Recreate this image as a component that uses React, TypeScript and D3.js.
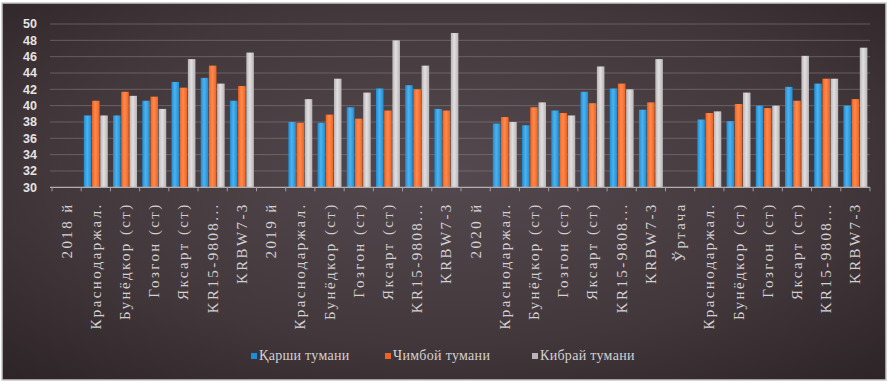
import React from "react";
import * as d3 from "d3";

const categories = [
  "2018 й", "Краснодаржал.", "Бунёдкор (ст)", "Гозгон (ст)", "Яксарт (ст)", "KR15-9808...", "KRBW7-3",
  "2019 й", "Краснодаржал.", "Бунёдкор (ст)", "Гозгон (ст)", "Яксарт (ст)", "KR15-9808...", "KRBW7-3",
  "2020 й", "Краснодаржал.", "Бунёдкор (ст)", "Гозгон (ст)", "Яксарт (ст)", "KR15-9808...", "KRBW7-3",
  "Ўртача", "Краснодаржал.", "Бунёдкор (ст)", "Гозгон (ст)", "Яксарт (ст)", "KR15-9808...", "KRBW7-3",
];

const seriesNames = ["Қарши тумани", "Чимбой тумани", "Кибрай тумани"];

const qarshi = [
  null, 38.8, 38.8, 40.6, 42.9, 43.4, 40.6,
  null, 38.0, 37.9, 39.8, 42.1, 42.5, 39.6,
  null, 37.8, 37.6, 39.4, 41.7, 42.1, 39.5,
  null, 38.3, 38.1, 40.0, 42.3, 42.7, 40.0,
];
const chimboy = [
  null, 40.6, 41.7, 41.1, 42.2, 44.9, 42.4,
  null, 37.9, 38.9, 38.4, 39.4, 42.0, 39.4,
  null, 38.6, 39.8, 39.1, 40.3, 42.7, 40.4,
  null, 39.1, 40.2, 39.7, 40.6, 43.3, 40.8,
];
const kibray = [
  null, 38.8, 41.2, 39.6, 45.7, 42.7, 46.5,
  null, 40.8, 43.3, 41.6, 48.0, 44.9, 48.9,
  null, 38.0, 40.4, 38.8, 44.8, 42.0, 45.7,
  null, 39.3, 41.6, 40.0, 46.1, 43.3, 47.1,
];

const yTicks = [30, 32, 34, 36, 38, 40, 42, 44, 46, 48, 50];

const colors = ["#1b8ed6", "#f0621f", "#b9b5b6"];
const colorsLight = ["#4fb2ee", "#ff8a4d", "#e2dfe0"];

const serif = "'Liberation Serif', 'DejaVu Serif', 'Times New Roman', serif";

export default function App() {
  const W = 888, H = 382;
  const left = 52, right = 870, top = 24, bottom = 187.3;
  const x = d3.scaleBand<number>().domain(d3.range(categories.length)).range([left, right]).paddingInner(0.18).paddingOuter(0.09);
  const xs = d3.scaleBand<number>().domain([0, 1, 2]).range([0, x.bandwidth()]).paddingInner(0.08);
  const y = d3.scaleLinear().domain([30, 50]).range([bottom, top]);
  const series = [qarshi, chimboy, kibray];
  const step = x.step();

  return (
    <svg width={W} height={H} style={{ position: "absolute", left: 0, top: 0 }}>
      <defs>
        <radialGradient id="bg" cx="50%" cy="45%" r="75%">
          <stop offset="0%" stopColor="#54494e" />
          <stop offset="60%" stopColor="#42383c" />
          <stop offset="100%" stopColor="#2c2326" />
        </radialGradient>
        {colors.map((c, i) => (
          <linearGradient key={i} id={`bar${i}`} x1="0" x2="1" y1="0" y2="0">
            <stop offset="0%" stopColor={c} />
            <stop offset="45%" stopColor={colorsLight[i]} />
            <stop offset="100%" stopColor={c} />
          </linearGradient>
        ))}
      </defs>
      <rect x={0} y={0} width={W} height={H} fill="#ffffff" />
      <rect x={2} y={3} width={884} height={377} fill="url(#bg)" stroke="#c9c6c7" strokeWidth={1.5} />
      {yTicks.map((t) => (
        <g key={t}>
          {t !== 30 && (
            <line x1={left - 2} x2={right} y1={y(t)} y2={y(t)} stroke="#8a8185" strokeOpacity={0.55} strokeWidth={1} />
          )}
          <text
            x={37}
            y={y(t)}
            dy="0.35em"
            textAnchor="end"
            fill="#e6e3e4"
            fontFamily="'Liberation Sans', Arial, sans-serif"
            fontWeight="bold"
            fontSize={12.5}
          >
            {t}
          </text>
        </g>
      ))}
      {series.map((vals, si) =>
        vals.map((v, ci) =>
          v == null ? null : (
            <rect
              key={`${si}-${ci}`}
              x={(x(ci) as number) + (xs(si) as number)}
              y={y(v)}
              width={xs.bandwidth()}
              height={y(30) - y(v)}
              fill={`url(#bar${si})`}
            />
          )
        )
      )}
      <line x1={left - 2} x2={right} y1={y(30)} y2={y(30)} stroke="#b3aeb0" strokeWidth={1.2} />
      {d3.range(categories.length + 1).map((i) => (
        <line
          key={`tk${i}`}
          x1={left + i * step}
          x2={left + i * step}
          y1={y(30)}
          y2={y(30) + 4}
          stroke="#a29da0"
          strokeWidth={1}
        />
      ))}
      {categories.map((c, i) => {
        const cx = (x(i) as number) + x.bandwidth() / 2;
        return (
          <text
            key={`lab${i}`}
            transform={`translate(${cx + 5},${y(30) + 15}) rotate(-90)`}
            textAnchor="end"
            fill="#d4d0d2"
            fontFamily={serif}
            fontSize={15}
            letterSpacing={2.4}
          >
            {c}
          </text>
        );
      })}
      {seriesNames.map((n, i) => {
        const lx = [251, 385, 532][i];
        return (
          <g key={`lg${i}`}>
            <rect x={lx} y={353} width={6} height={6} fill={colors[i]} />
            <text x={lx + 8} y={359.5} fill="#d4d0d2" fontFamily={serif} fontSize={14} letterSpacing={0.3}>
              {n}
            </text>
          </g>
        );
      })}
    </svg>
  );
}
